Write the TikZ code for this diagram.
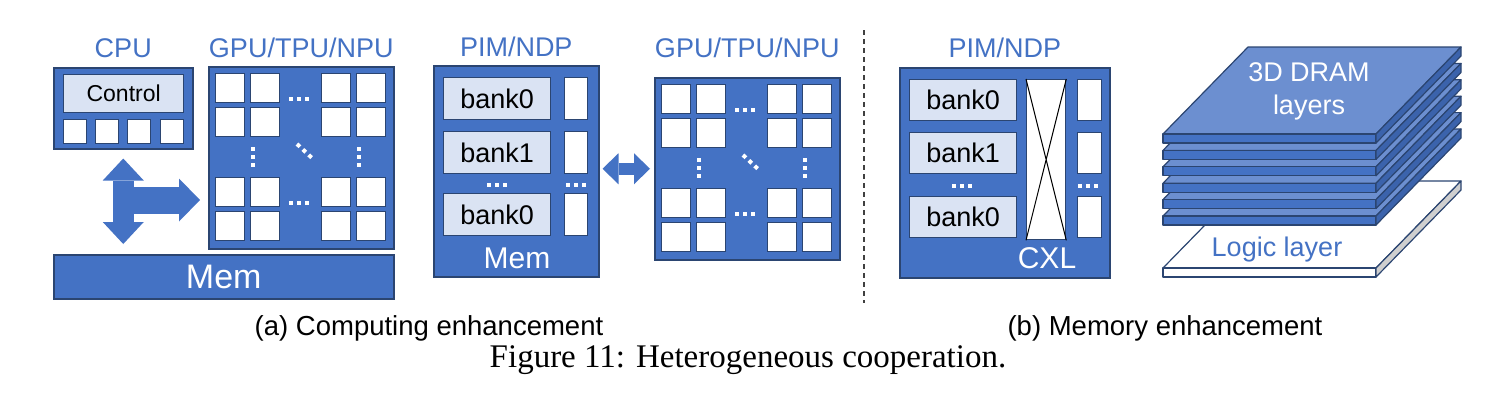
\documentclass[tikz,border=0pt]{standalone}
\usepackage{fontspec}
\setmainfont{Liberation Sans}
\newfontfamily\capserif{Liberation Serif}
\usetikzlibrary{arrows.meta,positioning}

\definecolor{accblue}{HTML}{4472C4}
\definecolor{edgeblue}{HTML}{2B4571}
\definecolor{bankfill}{HTML}{DAE3F3}
\definecolor{topblue}{HTML}{6C8FD0}
\definecolor{sideblue}{HTML}{3B63AC}
\definecolor{logicside}{HTML}{CFCFCF}
\newcommand{\fsz}[1]{\fontsize{#1}{#1}\selectfont}

\begin{document}
\begin{tikzpicture}[x=1pt, y=-1pt,
  unit/.style = {draw=edgeblue, fill=accblue, line width=1.5pt, inner sep=0pt, anchor=north west},
  cell/.style = {draw=edgeblue, fill=white, line width=1.3pt, inner sep=0pt, anchor=north west, minimum width=29pt, minimum height=29pt},
  bank/.style = {draw=edgeblue, fill=bankfill, line width=1.3pt, inner sep=0pt, anchor=north west, minimum width=107pt, minimum height=42pt, font=\fsz{27}},
  port/.style = {draw=edgeblue, fill=white, line width=1.3pt, inner sep=0pt, anchor=north west, minimum width=23pt, minimum height=42pt},
  lbl/.style = {text=accblue, font=\fsz{27}, inner sep=0pt},
  wlbl/.style = {text=white, font=\fsz{30}, inner sep=0pt},
  dots/.style = {white, line width=4pt, dash pattern=on 4pt off 4pt},
  fat/.style = {accblue, line width=#1},
  layer/.style = {draw=edgeblue, line width=1.2pt, line join=round}]
  \useasboundingbox (0,0) rectangle (1500,408);

  % (a) CPU + accelerator
  \node[unit, minimum width=139pt, minimum height=81pt] (cpu) at (53,67) {};
  \node[lbl] (cpulbl) at (cpu.north |- 0,48) {CPU};
  \node[bank, minimum width=120pt, minimum height=38pt, font=\fsz{23}] (ctrl) at (63,74) {Control};
  \foreach \x in {63,95,127,160}
    \node[port, minimum height=24pt] (core\x) at (\x,119) {};
  \node[unit, minimum width=340pt, minimum height=44pt, text=white, font=\fsz{34}] (mem) at (53,254) {Mem};

  \foreach \n/\x/\y in {gpua/208/66, gpub/654/77} {
    \node[unit, minimum width=185pt, minimum height=182pt] (\n) at (\x,\y) {};
    \node[lbl] (\n lbl) at (\n.north |- 0,47.5) {GPU/TPU/NPU};
    \foreach \cx in {7,42,113,148}
      \foreach \cy in {7,41,111,145}
        \node[cell] (\n-\cx-\cy) at (\x+\cx,\y+\cy) {};
    \draw[dots] (\x+81,\y+33) -- +(20,0);
    \draw[dots] (\x+81,\y+137) -- +(20,0);
    \draw[dots] (\x+45,\y+81) -- +(0,20);
    \draw[dots] (\x+151,\y+81) -- +(0,20);
    \draw[dots] (\x+89,\y+78) -- +(15,14);
  }

  \coordinate (fork) at (122.5,200);
  \draw[fat=21pt, {Triangle[length=22pt,width=41pt,line width=0pt]}-{Triangle[length=22pt,width=41pt,line width=0pt]},
    shorten <=9pt, shorten >=10pt] (cpu.south) -- (cpu.south |- mem.north);
  \draw[fat=27pt, -{Triangle[length=21pt,width=43pt,line width=0pt]}, shorten >=8pt] (fork) -- (fork -| gpua.west);

  % (a) PIM next to accelerator
  \node[unit, minimum width=165pt, minimum height=211pt] (pima) at (433,65) {};
  \node[lbl] (pimalbl) at (pima.north |- 0,47) {PIM/NDP};
  \node[bank] (pima-b0) at (443,77) {bank0};
  \node[bank] (pima-b1) at (443,131) {bank1};
  \node[bank] (pima-b2) at (443,193) {bank0};
  \foreach \y in {77,131,193}
    \node[port] (pima-p\y) at (564,\y) {};
  \draw[dots] (487,185) -- +(20,0);
  \draw[dots] (566,185) -- +(20,0);
  \node[wlbl] (pimamem) at (517,258) {Mem};
  \draw[fat=12pt, {Triangle[length=16pt,width=31pt,line width=0pt]}-{Triangle[length=16pt,width=31pt,line width=0pt]},
    shorten <=3pt, shorten >=4pt] (gpub.west -| pima.east) -- (gpub.west);

  \coordinate (septop) at (864,30);
  \coordinate (sepbot) at (864,303);
  \draw[black!75, line width=1.3pt, dash pattern=on 5pt off 4pt] (septop) -- (sepbot);

  % (b) PIM with CXL
  \node[unit, minimum width=210pt, minimum height=210pt] (pimb) at (899,67) {};
  \node[lbl] (pimblbl) at (pimb.north |- 0,48) {PIM/NDP};
  \node[bank, minimum height=41pt] (pimb-b0) at (909,79) {bank0};
  \node[bank, minimum height=41pt] (pimb-b1) at (909,132) {bank1};
  \node[bank, minimum height=41pt] (pimb-b2) at (909,196) {bank0};
  \foreach \y in {79,132,196}
    \node[port, minimum width=24pt, minimum height=41pt] (pimb-p\y) at (1077,\y) {};
  \node[port, minimum width=39pt, minimum height=160pt] (xbar) at (1026,79) {};
  \draw[black, line width=1pt] (xbar.north west) -- (xbar.south east) (xbar.north east) -- (xbar.south west);
  \draw[dots] (952,186) -- +(20,0);
  \draw[dots] (1078,186) -- +(20,0);
  \node[wlbl] (cxl) at (1047,258) {CXL};

  % (b) 3D stack
  \draw[layer, fill=white] (1163,268) -- (1376,268) -- (1461,181) -- (1248,181) -- cycle;
  \draw[layer, fill=white] (1163,268) rectangle (1376,277);
  \draw[layer, fill=logicside] (1376,268) -- (1461,181) -- (1461,190) -- (1376,277) -- cycle;
  \node[lbl] (logic) at (1277,250) {Logic layer};
  \foreach \i in {5,4,...,0} {
    \pgfmathsetmacro{\ty}{134+16.4*\i}
    \draw[layer, fill=topblue] (1163,\ty) -- (1376,\ty) -- (1461,\ty-87) -- (1248,\ty-87) -- cycle;
    \draw[layer, fill=accblue] (1163,\ty) rectangle (1376,\ty+9);
    \draw[layer, fill=sideblue] (1376,\ty) -- (1461,\ty-87) -- (1461,\ty-78) -- (1376,\ty+9) -- cycle;
  }
  \node[text=white, font=\fontsize{27}{33}\selectfont, align=center, inner sep=0pt] (dram) at (1309,91.5) {3D DRAM\\layers};

  % captions
  \node[font=\fsz{27.5}, inner sep=0pt] (capa) at (429,328) {(a) Computing enhancement};
  \node[font=\fsz{27.5}, inner sep=0pt] (capb) at (1165,328) {(b) Memory enhancement};
  \node[font=\capserif\fsz{33}, inner sep=0pt] (figcap) at (748,360) {Figure 11: Heterogeneous cooperation.};
\end{tikzpicture}
\end{document}
